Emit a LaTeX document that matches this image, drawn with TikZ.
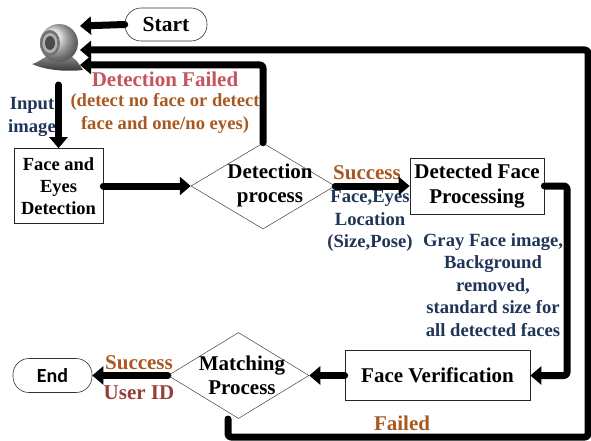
\documentclass[tikz,border=0pt]{standalone}
\usepackage{fontspec}
\setmainfont{Liberation Serif}
\newfontfamily\endfont{Carlito}
\usetikzlibrary{arrows.meta,shapes.geometric,calc}
\definecolor{navy}{HTML}{1F3557}
\definecolor{rust}{HTML}{A9591F}
\definecolor{failred}{HTML}{C4555A}
\definecolor{idred}{HTML}{96403A}
\tikzset{
  flow/.style={line width=7pt,line cap=round,line join=round,rounded corners=3pt,-{Triangle[length=11pt,width=18pt]},black},
  terminal/.style={draw=black!80,line width=0.6pt,rounded corners=16pt,fill=white,inner sep=0pt},
  procbox/.style={draw=black!85,line width=0.7pt,fill=white,inner sep=0pt,align=center,font=\bfseries\fontsize{18.5}{22}\selectfont},
  decision/.style={diamond,draw=black!75,line width=0.5pt,inner sep=0pt,aspect=1.65,align=center},
  lab/.style={inner sep=0pt,align=center,font=\bfseries\fontsize{18.6}{22.5}\selectfont},
  biglab/.style={lab,font=\bfseries\fontsize{21}{22}\selectfont},
}
\begin{document}
\begin{tikzpicture}[x=1pt,y=-1pt]
\useasboundingbox (0,0) rectangle (591,441);
% text under connectors
\node[lab,text=navy] (inputlab) at (32,117) {Input\\image};
% webcam
\begin{scope}
\shade[top color=black!45,bottom color=black!80] (32,64) .. controls (40,62) and (44,56) .. (52,55) -- (68,55) .. controls (74,57) and (78,62) .. (83,70) .. controls (65,72) and (45,70) .. (32,64) -- cycle;
\shade[ball color=black!15] (59,43) circle (19);
\fill[black!55] (50,43) ellipse (10 and 13);
\fill[black!30] (50,43) ellipse (7.5 and 10);
\fill[black!70] (50,43) ellipse (5 and 7);
\end{scope}
\coordinate (camtop) at (80,26);
\coordinate (camback) at (80,50);
\coordinate (camfail) at (80,65);
\coordinate (camout) at (58.5,85);
% nodes
\node[terminal,minimum width=82pt,minimum height=33pt,font=\bfseries\fontsize{21.5}{22}\selectfont] (start) at (166,24.5) {Start};
\node[procbox,minimum width=89pt,minimum height=75pt] (facebox) at (58.5,186) {Face and\\Eyes\\Detection};
\node[decision,minimum width=144pt,minimum height=86pt] (detect) at (263,186) {};
\node[inner sep=0pt,align=center,font=\bfseries\fontsize{21}{24}\selectfont] (detecttext) at (270,185) {Detection\\process};
\node[procbox,minimum width=134pt,minimum height=56pt,font=\bfseries\fontsize{21}{25}\selectfont] (procface) at (477,186) {Detected Face\\Processing};
\node[procbox,minimum width=185pt,minimum height=50pt,font=\bfseries\fontsize{21}{24}\selectfont] (verify) at (437.5,375.5) {Face Verification};
\node[decision,minimum width=141pt,minimum height=86pt] (match) at (238.5,375.5) {};
\node[inner sep=0pt,align=center,font=\bfseries\fontsize{21}{24}\selectfont] (matchtext) at (242,375) {Matching\\Process};
\node[terminal,minimum width=79pt,minimum height=34pt,font=\endfont\bfseries\fontsize{20}{22}\selectfont] (stop) at (52.5,375.5) {End};
% labels
\node[biglab,text=failred] (faillab) at (165,79) {Detection Failed};
\node[lab,text=rust] (failnote) at (165,113.5) {(detect no face or detect\\face and one/no eyes)};
\node[biglab,text=rust] (oklab) at (367,173) {Success};
\node[lab,text=navy] (loclab) at (370,221) {Face,Eyes\\Location\\(Size,Pose)};
\node[lab,text=navy] (graylab) at (493,285) {Gray Face image,\\Background\\removed,\\standard size for\\all detected faces};
\node[biglab,text=rust] (oklab2) at (139,363) {Success};
\node[biglab,text=idred] (idlab) at (139,393) {User ID};
\node[biglab,text=rust] (faillab2) at (402,423) {Failed};
% connectors
\coordinate (loopa) at (228,437);
\coordinate (loopb) at (588,437);
\coordinate (loopc) at (588,50);
\coordinate (loopstart) at (228,419);
\coordinate (bend) at (567,186);
\coordinate (bendb) at (567,375.5);
\draw[flow] (start.west) -- (camtop);
\draw[flow] (loopstart) -- (loopa) -- (loopb) -- (loopc) -- (camback);
\draw[flow] (detect.north) |- (camfail);
\draw[flow] (camout) -- (facebox.north);
\draw[flow] (facebox.east) -- (detect.west);
\draw[flow] (detect.east) -- (procface.west);
\draw[flow] (procface.east) -- (bend) -- (bendb) -- (verify.east);
\draw[flow] (verify.west) -- (match.east);
\draw[flow] (match.west) -- (stop.east);
\end{tikzpicture}
\end{document}
